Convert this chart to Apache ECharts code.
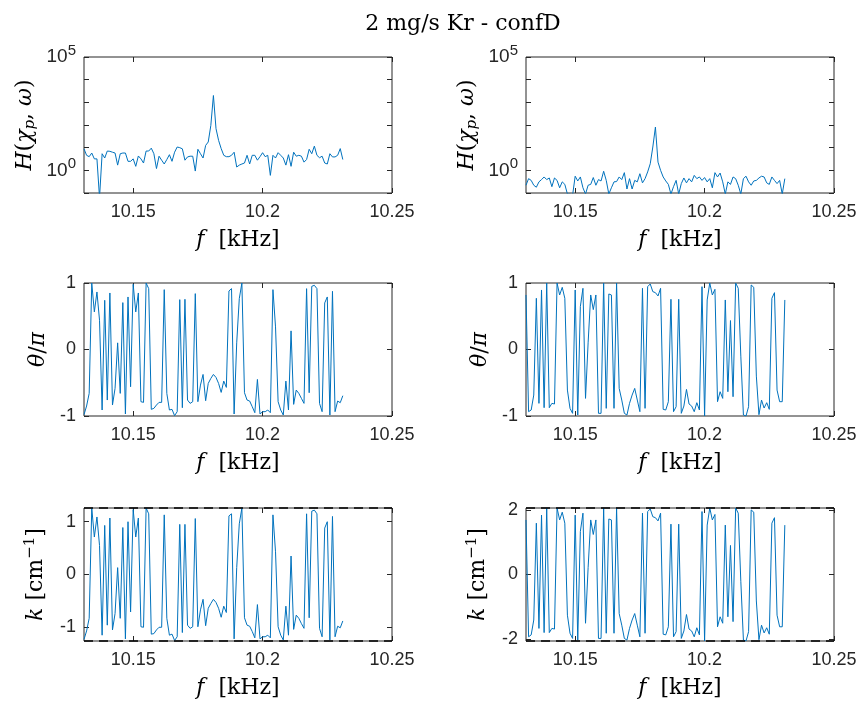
<!DOCTYPE html>
<html><head><meta charset="utf-8">
<script src="https://cdn.jsdelivr.net/npm/echarts@6/dist/echarts.min.js"></script>
<style>html,body{margin:0;padding:0;background:#fff}#c{width:861px;height:706px}</style>
</head><body><div id="c"></div>
<script>
const chartTitle = '2 mg/s Kr - confD';
const freq = [10.131,10.132,10.133,10.134,10.135,10.136,10.137,10.138,10.139,10.140,
10.141,10.142,10.143,10.144,10.145,10.146,10.147,10.148,10.149,10.150,
10.151,10.152,10.153,10.154,10.155,10.156,10.157,10.158,10.159,10.160,
10.161,10.162,10.163,10.164,10.165,10.166,10.167,10.168,10.169,10.170,
10.171,10.172,10.173,10.174,10.175,10.176,10.177,10.178,10.179,10.180,
10.181,10.182,10.183,10.184,10.185,10.186,10.187,10.188,10.189,10.190,
10.191,10.192,10.193,10.194,10.195,10.196,10.197,10.198,10.199,10.200,
10.201,10.202,10.203,10.204,10.205,10.206,10.207,10.208,10.209,10.210,
10.211,10.212,10.213,10.214,10.215,10.216,10.217,10.218,10.219,10.220,
10.221,10.222,10.223,10.224,10.225,10.226,10.227,10.228,10.229,10.230,10.231];

const hLeft = [8.9,4.6,4.0,5.8,3.2,3.2,0.063,5.4,3.5,7.1,
6.9,6.3,5.8,1.7,5.4,5.8,5.8,2.5,2.5,3.2,
1.5,4.3,3.2,2.1,7.1,7.1,9.5,5.4,1.2,4.2,
2.8,1.9,3.0,4.9,2.5,6.3,10.7,10,8.9,2.8,
3.9,4.2,4.2,0.93,8.5,5.4,3.5,12.6,17.8,95,
2000,69,21,9.1,4.6,4.0,4.0,4.6,6.3,1.4,
1.7,1.9,2.1,4.6,1.9,4.6,4.6,2.8,4.0,6.0,
4.0,4.6,0.6,4.6,3.5,6.0,4.6,3.5,1.7,4.9,
1.5,6.3,4.2,4.6,4.2,2.3,3.0,8.5,5.4,11.7,
4.6,3.6,4.2,2.1,1.9,5.4,3.9,3.9,4.6,9.1,3.0];

const hRight = [0.22,0.43,0.36,0.22,0.18,0.31,0.39,0.51,0.39,0.46,
0.19,0.46,0.36,0.17,0.31,0.24,0.09,0.09,0.08,0.55,
0.34,0.51,0.17,0.09,0.22,0.24,0.48,0.22,0.39,0.34,
0.91,0.36,0.09,0.17,0.31,0.32,0.51,0.39,0.79,0.15,
0.43,0.15,0.36,0.31,0.71,0.28,0.43,0.85,1.95,10.7,
81,2.3,1.0,0.51,0.34,0.24,0.09,0.19,0.36,0.09,
0.26,0.46,0.28,0.43,0.31,0.6,0.43,0.51,0.36,0.48,
0.31,0.43,0.17,0.79,0.51,0.76,0.31,0.09,0.31,0.24,
0.51,0.43,0.22,0.09,0.43,0.55,0.31,0.22,0.34,0.36,
0.46,0.55,0.51,0.28,0.24,0.51,0.36,0.26,0.36,0.09,0.43];

const thetaLeft = [-0.98,-0.85,-0.66,1.0,0.565,0.865,0.44,-0.91,0.74,-0.76,
0.85,-0.835,-0.585,0.1,-0.66,0.705,-0.97,0.79,-0.56,0.98,
0.565,0.85,-0.785,-0.795,1.0,0.915,-0.9,-0.885,-0.835,-0.795,
-0.795,0.9,-0.66,-0.91,-0.9,-0.995,-0.935,0.75,-0.875,0.755,
-0.76,-0.81,-0.785,0.84,-0.785,-0.535,-0.375,-0.77,-0.51,-0.435,
-0.375,-0.42,-0.51,-0.645,-0.475,-0.57,0.88,0.915,-0.97,0.1,
0.765,1.0,-0.65,-0.76,-0.775,-0.86,-0.95,-0.45,-0.97,-0.935,
-0.935,-0.91,-0.95,0.9,0.34,-0.785,-0.91,-0.985,-0.475,-0.91,
0.28,-0.825,-0.61,-0.66,-0.735,-0.81,0.915,-0.65,0.95,0.965,
0.915,-0.81,-0.935,0.7,0.79,-0.985,0.875,-0.935,-0.775,-0.8,-0.695];

const thetaRight = [0.82,-0.935,-0.91,-0.685,0.77,-0.81,0.895,-0.875,1.0,-0.875,
-0.81,-0.82,1.0,0.82,0.935,0.77,-0.61,-0.885,-0.96,0.895,
-0.985,0.645,0.92,-0.735,0.1,0.82,0.6,0.82,-0.96,-0.96,
1.0,-0.885,0.835,0.82,-0.885,1.0,-0.585,-0.76,-0.96,-0.985,
-0.81,-0.685,-0.585,-0.76,-0.935,0.92,-0.885,0.945,0.985,0.87,
0.855,0.805,0.92,-0.9,-0.91,-0.785,0.755,-0.935,-0.86,0.755,
-0.96,-0.85,-0.6,-0.82,-0.85,-0.935,-0.8,-0.91,0.945,-1.0,
0.745,1.0,0.82,0.905,-0.785,-0.635,-0.735,0.745,-0.635,0.435,
-0.71,1.0,0.92,-0.1,-0.985,-1.0,-0.86,0.97,0.935,-0.4,
-0.98,-0.76,-0.88,-0.8,-0.9,0.77,0.855,-0.61,-0.785,-0.785,0.745];

const kLeft = [-1.23,-1.07,-0.83,1.26,0.71,1.09,0.55,-1.15,0.93,-0.96,
1.07,-1.05,-0.74,0.13,-0.83,0.89,-1.22,1.0,-0.71,1.23,
0.71,1.07,-0.99,-1.0,1.26,1.15,-1.13,-1.12,-1.05,-1.0,
-1.0,1.13,-0.83,-1.15,-1.13,-1.25,-1.18,0.95,-1.1,0.95,
-0.96,-1.02,-0.99,1.06,-0.99,-0.67,-0.47,-0.97,-0.64,-0.55,
-0.47,-0.53,-0.64,-0.81,-0.6,-0.72,1.11,1.15,-1.22,0.13,
0.96,1.26,-0.82,-0.96,-0.98,-1.08,-1.2,-0.57,-1.22,-1.18,
-1.18,-1.15,-1.2,1.13,0.43,-0.99,-1.15,-1.24,-0.6,-1.15,
0.35,-1.04,-0.77,-0.83,-0.93,-1.02,1.15,-0.82,1.2,1.22,
1.15,-1.02,-1.18,0.88,1.0,-1.24,1.1,-1.18,-0.98,-1.01,-0.88];

const kRight = [1.69,-1.93,-1.87,-1.41,1.59,-1.67,1.84,-1.8,2.06,-1.8,
-1.67,-1.69,2.06,1.69,1.93,1.59,-1.26,-1.82,-1.98,1.84,
-2.03,1.33,1.9,-1.51,0.21,1.69,1.24,1.69,-1.98,-1.98,
2.06,-1.82,1.72,1.69,-1.82,2.06,-1.21,-1.57,-1.98,-2.03,
-1.67,-1.41,-1.21,-1.57,-1.93,1.9,-1.82,1.95,2.03,1.79,
1.76,1.66,1.9,-1.85,-1.87,-1.62,1.56,-1.93,-1.77,1.56,
-1.98,-1.75,-1.24,-1.69,-1.75,-1.93,-1.65,-1.87,1.95,-2.06,
1.53,2.06,1.69,1.86,-1.62,-1.31,-1.51,1.53,-1.31,0.9,
-1.46,2.06,1.9,-0.21,-2.03,-2.06,-1.77,2.0,1.93,-0.82,
-2.02,-1.57,-1.81,-1.65,-1.85,1.59,1.76,-1.26,-1.62,-1.62,1.53];

const xTicks = [10.15, 10.2, 10.25];
const xMin = 10.131, xMax = 10.25;
const hMin = 0.1, hMax = 100000;
const hLabelTicks = [1, 100000];
const thetaTicks = [-1, 0, 1];
const kLeftTicks = [-1, 0, 1];
const kRightTicks = [-2, 0, 2];
const kLeftLimit = 1.26;
const kRightLimit = 2.06;

const BLUE = '#0072BD';
const AX = '#262626';
const SANS = '"Liberation Sans", Arial, Helvetica, sans-serif';
const SERIF = '"DejaVu Serif", "Liberation Serif", serif';

const cols = [84, 526];
const rows = [{top: 57, h: 136}, {top: 283, h: 133}, {top: 508, h: 133}];

const nameRich = {
  n: {fontFamily: SERIF, fontSize: 22, color: '#000'},
  i: {fontFamily: SERIF, fontSize: 22, fontStyle: 'italic', color: '#000'},
  sub: {fontFamily: SERIF, fontSize: 15, fontStyle: 'italic', color: '#000', padding: [11, 0, 0, 0]},
  sup: {fontFamily: SERIF, fontSize: 15, color: '#000', padding: [0, 0, 11, 0]}
};
const tickRich = {
  b: {fontFamily: SANS, fontSize: 19, color: AX},
  s: {fontFamily: SANS, fontSize: 15, color: AX, padding: [0, 0, 12, 0]}
};

const grids = [], xAxes = [], yAxes = [], series = [];

const panels = [
  {col: 0, row: 0, kind: 'log', data: hLeft, name: '{i|H}{n|(}{i|χ}{sub|p}{n|, }{i|ω}{n|)}', gap: 46},
  {col: 1, row: 0, kind: 'log', data: hRight, name: '{i|H}{n|(}{i|χ}{sub|p}{n|, }{i|ω}{n|)}', gap: 46},
  {col: 0, row: 1, kind: 'lin', data: thetaLeft, min: -1, max: 1, ticks: thetaTicks, name: '{i|θ}{n|/}{i|π}', gap: 35},
  {col: 1, row: 1, kind: 'lin', data: thetaRight, min: -1, max: 1, ticks: thetaTicks, name: '{i|θ}{n|/}{i|π}', gap: 35},
  {col: 0, row: 2, kind: 'lin', data: kLeft, min: -kLeftLimit, max: kLeftLimit, ticks: kLeftTicks, limit: kLeftLimit, name: '{i|k}{n| [cm}{sup|−1}{n|]}', gap: 35},
  {col: 1, row: 2, kind: 'lin', data: kRight, min: -kRightLimit, max: kRightLimit, ticks: kRightTicks, limit: kRightLimit, name: '{i|k}{n| [cm}{sup|−1}{n|]}', gap: 35}
];

panels.forEach((p, g) => {
  const r = rows[p.row];
  grids.push({left: cols[p.col], top: r.top, width: 308, height: r.h,
    show: true, borderColor: AX, borderWidth: 1, backgroundColor: 'transparent'});
  const tick = {show: true, inside: true, length: 5, interval: 0, lineStyle: {color: AX, width: 1}};
  const noLine = {show: false, onZero: false};
  xAxes.push({gridIndex: g, type: 'value', position: 'bottom', min: xMin, max: xMax,
    axisLine: noLine, splitLine: {show: false},
    axisTick: Object.assign({customValues: xTicks}, tick),
    axisLabel: {customValues: xTicks, color: AX, fontFamily: SANS, fontSize: 18, margin: 10,
      formatter: v => String(+v.toFixed(2))},
    name: '{i|f}{n|  [kHz]}', nameLocation: 'middle', nameGap: 36,
    nameTextStyle: {rich: nameRich}});
  xAxes.push({gridIndex: g, type: 'value', position: 'top', min: xMin, max: xMax,
    axisLine: noLine, splitLine: {show: false},
    axisTick: Object.assign({customValues: xTicks}, tick), axisLabel: {show: false}});
  if (p.kind === 'log') {
    const base = {gridIndex: g, type: 'log', logBase: 10, min: hMin, max: hMax, interval: 1, splitNumber: 6,
      axisLine: noLine, splitLine: {show: false}, axisTick: tick};
    yAxes.push(Object.assign({}, base, {position: 'left',
      axisLabel: {margin: 8, showMinLabel: true, showMaxLabel: true, interval: 0,
        formatter: v => hLabelTicks.some(t => Math.abs(v - t) / t < 1e-6) ? '{b|10}{s|' + Math.round(Math.log10(v)) + '}' : '',
        rich: tickRich},
      name: p.name, nameLocation: 'middle', nameGap: p.gap, nameRotate: 90,
      nameTextStyle: {rich: nameRich}}));
    yAxes.push(Object.assign({}, base, {position: 'right', axisLabel: {show: false}}));
  } else {
    const base = {gridIndex: g, type: 'value', min: p.min, max: p.max,
      axisLine: noLine, splitLine: {show: false},
      axisTick: Object.assign({customValues: p.ticks}, tick)};
    yAxes.push(Object.assign({}, base, {position: 'left',
      axisLabel: {customValues: p.ticks, color: AX, fontFamily: SANS, fontSize: 18, margin: 8},
      name: p.name, nameLocation: 'middle', nameGap: p.gap, nameRotate: 90,
      nameTextStyle: {rich: nameRich}}));
    yAxes.push(Object.assign({}, base, {position: 'right', axisLabel: {show: false}}));
  }
  const s = {type: 'line', xAxisIndex: 2 * g, yAxisIndex: 2 * g, showSymbol: false, symbol: 'none',
    clip: true, animation: false, lineStyle: {color: BLUE, width: 1}, itemStyle: {color: BLUE},
    data: freq.map((f, i) => [f, p.data[i]])};
  if (p.limit) {
    s.markLine = {silent: true, symbol: 'none', label: {show: false}, animation: false,
      lineStyle: {color: '#000', type: [9, 6], width: 1.5},
      data: [{yAxis: p.limit}, {yAxis: -p.limit}]};
  }
  series.push(s);
});

const chart = echarts.init(document.getElementById('c'), null, {renderer: 'canvas'});
chart.setOption({
  animation: false,
  backgroundColor: '#fff',
  title: {text: chartTitle, left: 458, top: 8, textAlign: 'center',
    textStyle: {fontFamily: SERIF, fontWeight: 'normal', fontSize: 22, color: '#000'}},
  grid: grids, xAxis: xAxes, yAxis: yAxes, series: series
});
</script></body></html>
